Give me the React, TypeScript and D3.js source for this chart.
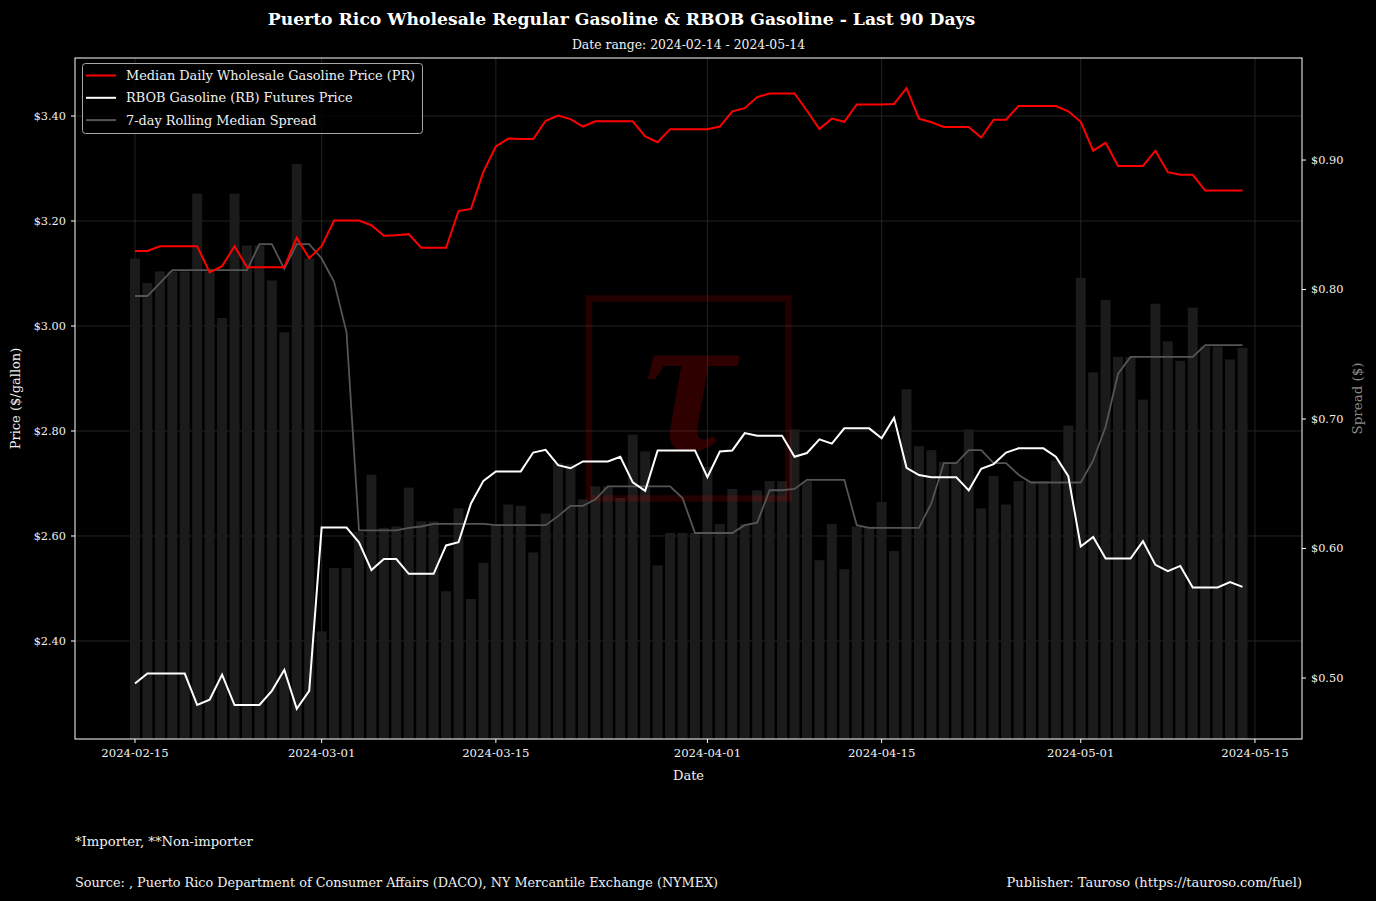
import React, { useEffect } from "react";
import * as d3 from "d3";

// ---------- data ----------
const startDate = "2024-02-15";
const endDate = "2024-05-14";

const prPrice = [
  3.143, 3.143, 3.152, 3.152, 3.152, 3.152, 3.102, 3.114, 3.152, 3.112,
  3.112, 3.112, 3.112, 3.168, 3.129, 3.152, 3.201, 3.201, 3.201, 3.192,
  3.172, 3.173, 3.175, 3.149, 3.149, 3.149, 3.219, 3.223, 3.294, 3.342,
  3.357, 3.356, 3.356, 3.391, 3.401, 3.394, 3.380, 3.390, 3.390, 3.390,
  3.390, 3.361, 3.350, 3.375, 3.375, 3.375, 3.375, 3.380, 3.409, 3.415,
  3.436, 3.443, 3.443, 3.443, 3.410, 3.375, 3.395, 3.389, 3.422, 3.422,
  3.422, 3.423, 3.453, 3.395, 3.388, 3.379, 3.379, 3.379, 3.359, 3.393,
  3.393, 3.419, 3.419, 3.419, 3.419, 3.409, 3.389, 3.334, 3.349, 3.305,
  3.305, 3.305, 3.334, 3.293, 3.288, 3.288, 3.258, 3.258, 3.258, 3.258,
];

const rbobPrice = [
  2.319, 2.338, 2.338, 2.338, 2.338, 2.278, 2.288, 2.336, 2.278, 2.278,
  2.278, 2.305, 2.345, 2.271, 2.305, 2.616, 2.616, 2.616, 2.588, 2.535,
  2.556, 2.556, 2.528, 2.528, 2.528, 2.582, 2.588, 2.662, 2.705, 2.723,
  2.723, 2.723, 2.759, 2.764, 2.735, 2.729, 2.742, 2.742, 2.742, 2.751,
  2.702, 2.686, 2.763, 2.763, 2.763, 2.763, 2.712, 2.761, 2.763, 2.796,
  2.791, 2.791, 2.791, 2.751, 2.758, 2.784, 2.776, 2.805, 2.805, 2.805,
  2.786, 2.825, 2.730, 2.716, 2.712, 2.712, 2.712, 2.687, 2.728, 2.737,
  2.759, 2.767, 2.767, 2.767, 2.751, 2.714, 2.580, 2.598, 2.557, 2.557,
  2.557, 2.590, 2.545, 2.533, 2.543, 2.502, 2.502, 2.502, 2.512, 2.503,
];

const dailySpread = [
  0.824, 0.805, 0.814, 0.814, 0.814, 0.874, 0.814, 0.778, 0.874, 0.834,
  0.834, 0.807, 0.767, 0.897, 0.824, 0.536, 0.585, 0.585, 0.613, 0.657,
  0.616, 0.617, 0.647, 0.621, 0.621, 0.567, 0.631, 0.561, 0.589, 0.619,
  0.634, 0.633, 0.597, 0.627, 0.666, 0.665, 0.638, 0.648, 0.648, 0.639,
  0.688, 0.675, 0.587, 0.612, 0.612, 0.612, 0.663, 0.619, 0.646, 0.619,
  0.645, 0.652, 0.652, 0.692, 0.652, 0.591, 0.619, 0.584, 0.617, 0.617,
  0.636, 0.598, 0.723, 0.679, 0.676, 0.667, 0.667, 0.692, 0.631, 0.656,
  0.634, 0.652, 0.652, 0.652, 0.668, 0.695, 0.809, 0.736, 0.792, 0.748,
  0.748, 0.715, 0.789, 0.760, 0.745, 0.786, 0.756, 0.756, 0.746, 0.755,
];

const rollingSpread = [
  0.795, 0.795, 0.805, 0.815, 0.815, 0.815, 0.815, 0.815, 0.815, 0.815,
  0.835, 0.835, 0.816, 0.835, 0.835, 0.824, 0.806, 0.767, 0.614, 0.614,
  0.614, 0.614, 0.616, 0.617, 0.619, 0.619, 0.619, 0.619, 0.619, 0.618,
  0.618, 0.618, 0.618, 0.618, 0.625, 0.633, 0.633, 0.638, 0.648, 0.648,
  0.648, 0.648, 0.648, 0.648, 0.639, 0.612, 0.612, 0.612, 0.612, 0.618,
  0.620, 0.645, 0.645, 0.646, 0.653, 0.653, 0.653, 0.653, 0.618, 0.616,
  0.616, 0.616, 0.616, 0.616, 0.635, 0.666, 0.666, 0.676, 0.676, 0.666,
  0.666, 0.657, 0.651, 0.651, 0.651, 0.651, 0.651, 0.668, 0.694, 0.735,
  0.748, 0.748, 0.748, 0.748, 0.748, 0.748, 0.757, 0.757, 0.757, 0.757,
];

const priceTicks = [2.4, 2.6, 2.8, 3.0, 3.2, 3.4];
const spreadTicks = [0.5, 0.6, 0.7, 0.8, 0.9];
const dateTicks = ["2024-02-15", "2024-03-01", "2024-03-15", "2024-04-01", "2024-04-15", "2024-05-01", "2024-05-15"];

const legendLabels = [
  "Median Daily Wholesale Gasoline Price (PR)",
  "RBOB Gasoline (RB) Futures Price",
  "7-day Rolling Median Spread",
];

const titleText = "Puerto Rico Wholesale Regular Gasoline & RBOB Gasoline - Last 90 Days";
const subtitleText = "Date range: 2024-02-14 - 2024-05-14";
const footnoteText = "*Importer, **Non-importer";
const sourceText = "Source: , Puerto Rico Department of Consumer Affairs (DACO), NY Mercantile Exchange (NYMEX)";
const publisherText = "Publisher: Tauroso (https://tauroso.com/fuel)";

// ---------- layout ----------
const W = 1376;
const H = 901;
const L = 75;
const R = 1302;
const T = 58;
const B = 739;
const FONT = "'DejaVu Serif', serif";
const DAY = 86400000;

const RED = "#ff0000";
const WHITE = "#ffffff";
const GREY = "#555555";
const BAR = "#1b1b1b";
const GRID = "#2c2c2c";
const TXT = "#f0f0f0";

export default function App() {
  useEffect(() => {
    document.body.style.margin = "0";
    document.body.style.background = "#000";
  }, []);

  const parse = d3.utcParse("%Y-%m-%d");
  const dates = d3.utcDay.range(parse(startDate)!, d3.utcDay.offset(parse(endDate)!, 1));

  const x = d3
    .scaleUtc()
    .domain([
      new Date(parse("2024-02-15")!.getTime() - 4.82 * DAY),
      new Date(parse("2024-05-15")!.getTime() + 3.78 * DAY),
    ])
    .range([L, R]);
  const yL = d3.scaleLinear().domain([2.2133, 3.5105]).range([B, T]);
  const yR = d3.scaleLinear().domain([0.4529, 0.9788]).range([B, T]);

  const lineL = d3
    .line<number>()
    .x((_, i) => x(dates[i]))
    .y((d) => yL(d));
  const lineR = d3
    .line<number>()
    .x((_, i) => x(dates[i]))
    .y((d) => yR(d));

  const barW = x(new Date(dates[0].getTime() + 0.8 * DAY)) - x(dates[0]);
  const fmt = (v: number) => "$" + v.toFixed(2);

  return (
    <svg
      width={W}
      height={H}
      style={{ position: "absolute", left: 0, top: 0, background: "#000" }}
      fontFamily={FONT}
    >
      <rect x={0} y={0} width={W} height={H} fill="#000" />
      <defs>
        <clipPath id="plotclip">
          <rect x={L} y={T} width={R - L} height={B - T} />
        </clipPath>
      </defs>

      {/* grid */}
      {priceTicks.map((t) => (
        <line key={"gh" + t} x1={L} x2={R} y1={yL(t)} y2={yL(t)} stroke={GRID} strokeWidth={0.8} />
      ))}
      {dateTicks.map((t) => (
        <line key={"gv" + t} x1={x(parse(t)!)} x2={x(parse(t)!)} y1={T} y2={B} stroke={GRID} strokeWidth={0.8} />
      ))}

      <g clipPath="url(#plotclip)">
        {/* spread bars */}
        {dailySpread.map((v, i) => (
          <rect
            key={"b" + i}
            x={x(dates[i]) - barW / 2}
            y={yR(v)}
            width={barW}
            height={B - yR(v)}
            fill={BAR}
          />
        ))}

        {/* watermark */}
        <rect x={589} y={298.5} width={199.5} height={200} fill="none" stroke={RED} strokeOpacity={0.14} strokeWidth={6.5} />
        <text x={689} y={450} textAnchor="middle" fontFamily="'Liberation Serif', serif" fontStyle="italic" fontWeight="bold" fontSize={205} fill={RED} fillOpacity={0.18}>
          τ
        </text>

        <path d={lineR(rollingSpread) || ""} fill="none" stroke={GREY} strokeWidth={1.8} />
        <path d={lineL(rbobPrice) || ""} fill="none" stroke={WHITE} strokeWidth={2} />
        <path d={lineL(prPrice) || ""} fill="none" stroke={RED} strokeWidth={2} />
      </g>

      {/* frame */}
      <rect x={L} y={T} width={R - L} height={B - T} fill="none" stroke="#ffffff" strokeWidth={1} />

      {/* left axis */}
      {priceTicks.map((t) => (
        <g key={"lt" + t}>
          <line x1={L - 4} x2={L} y1={yL(t)} y2={yL(t)} stroke="#fff" />
          <text x={L - 9} y={yL(t)} dy="0.35em" textAnchor="end" fontSize={11.3} fill={TXT}>
            {fmt(t)}
          </text>
        </g>
      ))}
      {/* right axis */}
      {spreadTicks.map((t) => (
        <g key={"rt" + t}>
          <line x1={R} x2={R + 4} y1={yR(t)} y2={yR(t)} stroke="#fff" />
          <text x={R + 9} y={yR(t)} dy="0.35em" textAnchor="start" fontSize={11.3} fill={TXT}>
            {fmt(t)}
          </text>
        </g>
      ))}
      {/* bottom axis */}
      {dateTicks.map((t) => (
        <g key={"bt" + t}>
          <line x1={x(parse(t)!)} x2={x(parse(t)!)} y1={B} y2={B + 4} stroke="#fff" />
          <text x={x(parse(t)!)} y={B + 18} textAnchor="middle" fontSize={11.7} fill={TXT}>
            {t}
          </text>
        </g>
      ))}

      {/* axis labels */}
      <text x={(L + R) / 2} y={780} textAnchor="middle" fontSize={13} fill={TXT}>
        Date
      </text>
      <text transform={`translate(20,${(T + B) / 2}) rotate(-90)`} textAnchor="middle" fontSize={13} fill={TXT}>
        Price ($/gallon)
      </text>
      <text transform={`translate(1362,${(T + B) / 2}) rotate(-90)`} textAnchor="middle" fontSize={13.4} fill="#888888">
        Spread ($)
      </text>

      {/* titles */}
      <text x={621.5} y={25} textAnchor="middle" fontSize={17.2} fontWeight="bold" fill="#ffffff">
        {titleText}
      </text>
      <text x={(L + R) / 2} y={49} textAnchor="middle" fontSize={12.4} fill={TXT}>
        {subtitleText}
      </text>

      {/* legend */}
      <rect x={82.5} y={63.5} width={340} height={70} rx={3} fill="#000" fillOpacity={0.8} stroke="#a8a8a8" strokeWidth={1} />
      {[RED, WHITE, GREY].map((c, i) => (
        <g key={"lg" + i}>
          <line x1={86} x2={116} y1={75.5 + i * 22.3} y2={75.5 + i * 22.3} stroke={c} strokeWidth={2} />
          <text x={126} y={75.5 + i * 22.3} dy="0.35em" fontSize={12.9} fill={TXT}>
            {legendLabels[i]}
          </text>
        </g>
      ))}

      {/* footer */}
      <text x={L} y={846} fontSize={13.2} fill={TXT}>
        {footnoteText}
      </text>
      <text x={L} y={887} fontSize={12.8} fill={TXT}>
        {sourceText}
      </text>
      <text x={R} y={887} textAnchor="end" fontSize={13} fill={TXT}>
        {publisherText}
      </text>
    </svg>
  );
}
